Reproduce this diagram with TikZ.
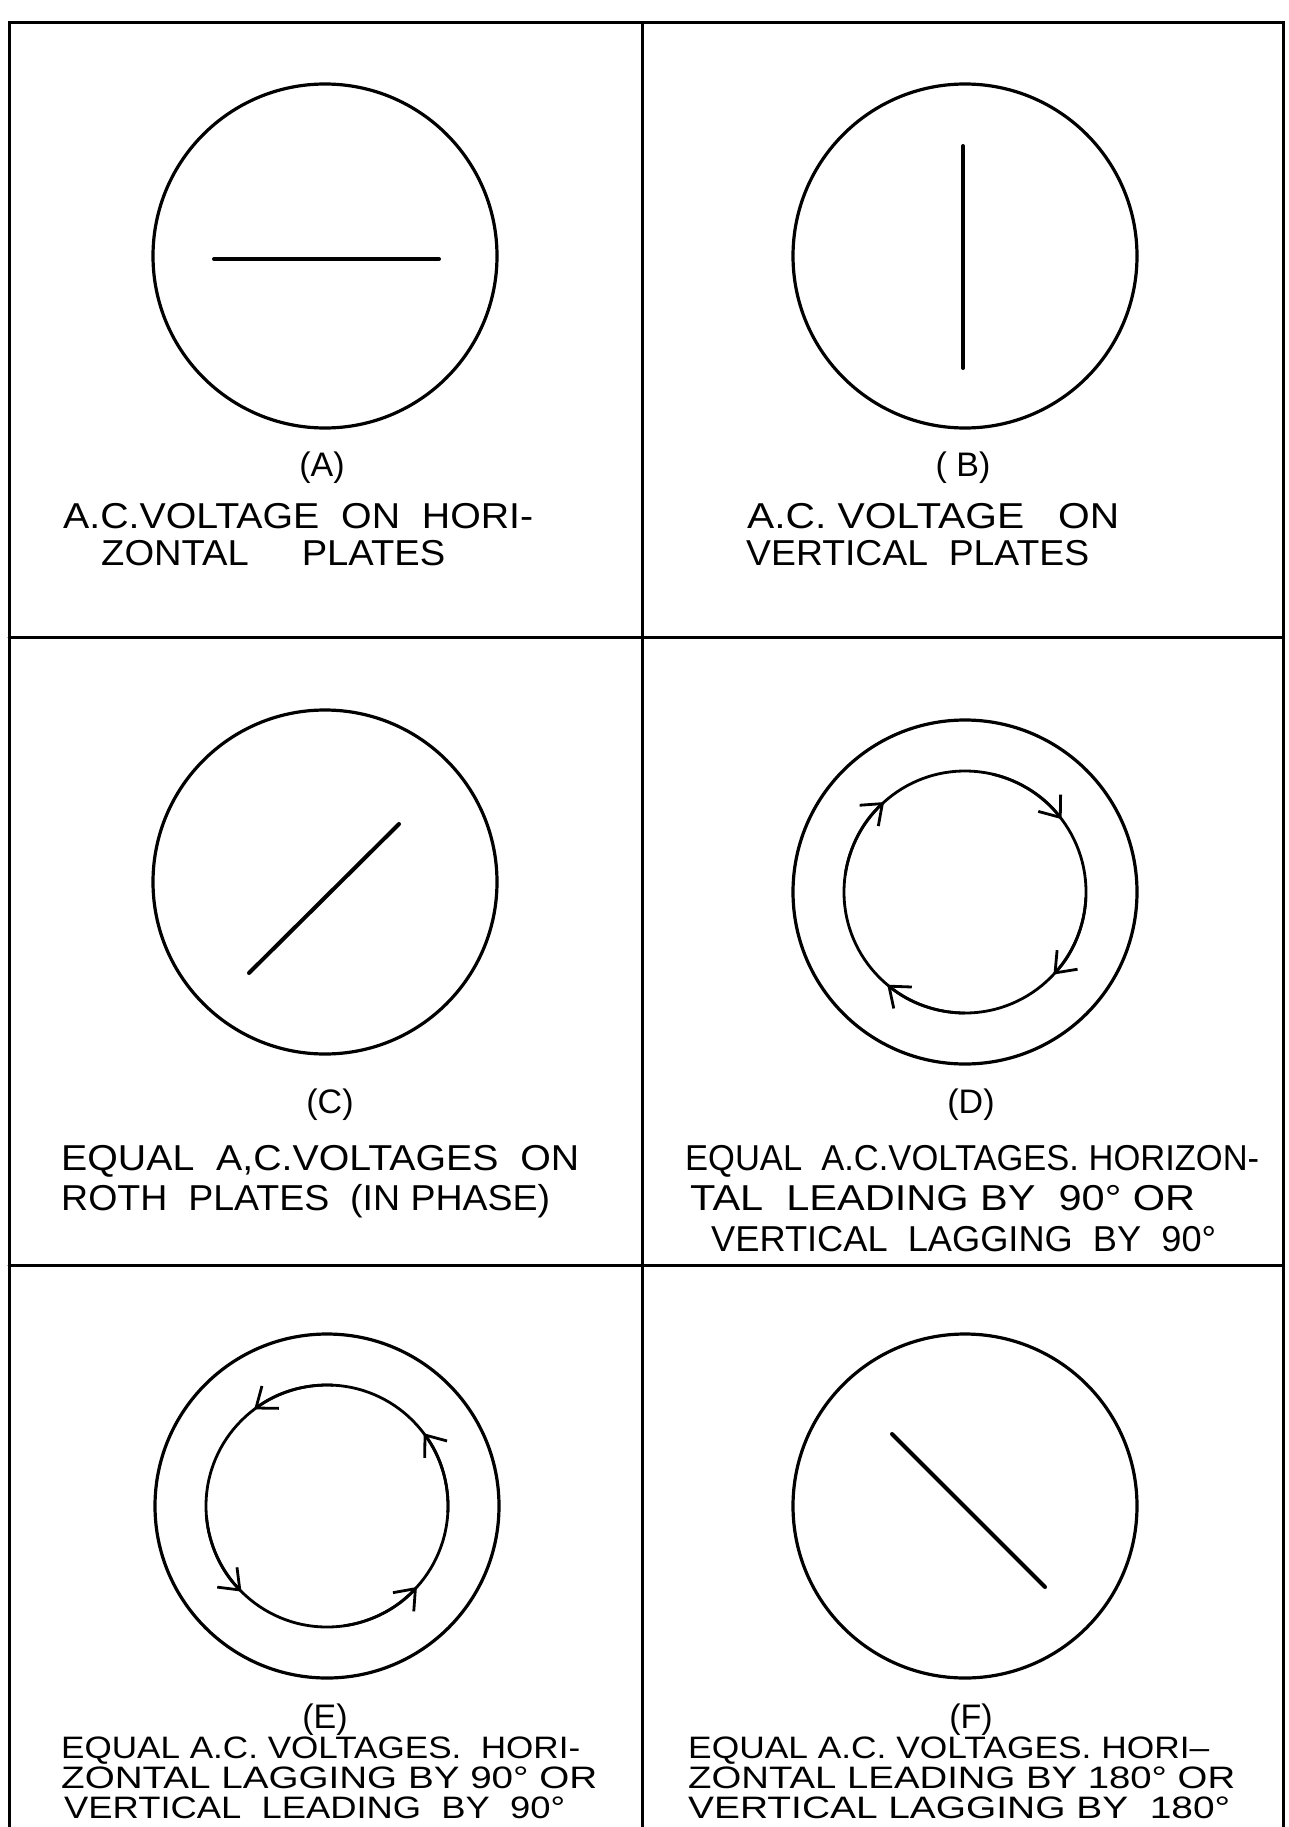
\documentclass[tikz,border=0pt]{standalone}
\usepackage{fontspec}
\setmainfont{Liberation Sans}
\usepackage{graphicx}
\usetikzlibrary{arrows.meta}
\newcommand\fitw[2]{\resizebox{#1pt}{\height}{#2}}
\begin{document}
\begin{tikzpicture}[x=1pt,y=-1pt,
  frame/.style={line width=3pt, line cap=round},
  scope/.style={line width=3.2pt},
  inner/.style={line width=2.8pt},
  plate/.style={line width=4pt, line cap=round},
  barb/.style={line width=2.8pt, -{Straight Barb[length=18pt,width=28pt,line width=2.8pt]}},
  big/.style={anchor=base west, inner sep=0pt, font=\fontsize{36}{40}\selectfont},
  small/.style={anchor=base west, inner sep=0pt, font=\fontsize{31}{34}\selectfont},
  lab/.style={anchor=base, inner sep=0pt, font=\fontsize{34}{38}\selectfont}]
\useasboundingbox[fill=white] (0,0) rectangle (1289,1827);
% frame
\draw[frame] (9,1827) -- (9,23) -- (1283,23) -- (1283,1827);
\draw[frame] (642,23) -- (642,1827);
\draw[frame] (9,637) -- (1283,637);
\draw[frame] (9,1265) -- (1283,1265);
% centres
\coordinate (A) at (325,256);
\coordinate (B) at (965,256);
\coordinate (C) at (325,882);
\coordinate (D) at (965,892);
\coordinate (E) at (327,1506);
\coordinate (F) at (965,1506);
% A
\draw[scope] (A) circle[radius=172];
\draw[plate] (214,259) -- (439,259);
% B
\draw[scope] (B) circle[radius=172];
\draw[plate] (963,146) -- (963,368);
% C
\draw[scope] (C) circle[radius=172];
\draw[plate] (249,973) -- (399,824);
% D (clockwise on the page)
\draw[scope] (D) circle[radius=172];
\draw[inner] (D) circle[radius=121];
\draw[barb] (D) ++(-172:121) arc[start angle=-172, end angle=-132, radius=121];
\draw[barb] (D) ++(-77:121) arc[start angle=-77, end angle=-37, radius=121];
\draw[barb] (D) ++(3:121) arc[start angle=3, end angle=43, radius=121];
\draw[barb] (D) ++(90:121) arc[start angle=90, end angle=130, radius=121];
% E (anticlockwise on the page)
\draw[scope] (E) circle[radius=172];
\draw[inner] (E) circle[radius=121];
\draw[barb] (E) ++(-87:121) arc[start angle=-87, end angle=-127, radius=121];
\draw[barb] (E) ++(3:121) arc[start angle=3, end angle=-37, radius=121];
\draw[barb] (E) ++(175:121) arc[start angle=175, end angle=135, radius=121];
\draw[barb] (E) ++(82:121) arc[start angle=82, end angle=42, radius=121];
% F
\draw[scope] (F) circle[radius=172];
\draw[plate] (892,1434) -- (1045,1587);
% texts A
\node[lab] (tA) at (322,476) {(A)};
\node[big] (a1) at (63,528) {\fitw{470}{A.C.VOLTAGE\ \ ON\ \ HORI-}};
\node[big] (a2) at (101,565) {\fitw{344}{ZONTAL\ \ \ \ \ PLATES}};
% B
\node[lab] (tB) at (963,476) {( B)};
\node[big] (b1) at (747,528) {\fitw{372}{A.C. VOLTAGE\ \ \ ON}};
\node[big] (b2) at (746,565) {\fitw{343}{VERTICAL\ \ PLATES}};
% C
\node[lab] (tC) at (330,1113) {(C)};
\node[big] (c1) at (61,1170) {\fitw{518}{EQUAL\ \ A,C.VOLTAGES\ \ ON}};
\node[big] (c2) at (61,1210) {\fitw{489}{ROTH\ \ PLATES\ \ (IN PHASE)}};
% D
\node[lab] (tD) at (971,1113) {(D)};
\node[big] (d1) at (685,1170) {\fitw{574}{EQUAL\ \ A.C.VOLTAGES. HORIZON-}};
\node[big] (d2) at (690,1210) {\fitw{505}{TAL\ \ LEADING BY\ \ 90° OR}};
\node[big] (d3) at (711,1251) {\fitw{505}{VERTICAL\ \ LAGGING\ \ BY\ \ 90°}};
% E
\node[lab] (tE) at (325,1728) {(E)};
\node[small] (e1) at (61,1758) {\fitw{519}{EQUAL A.C. VOLTAGES.\ \ HORI-}};
\node[small] (e2) at (61,1788) {\fitw{536}{ZONTAL LAGGING BY 90° OR}};
\node[small] (e3) at (64,1818) {\fitw{501}{VERTICAL\ \ LEADING\ \ BY\ \ 90°}};
% F
\node[lab] (tF) at (971,1728) {(F)};
\node[small] (f1) at (688,1758) {\fitw{521}{EQUAL A.C. VOLTAGES. HORI–}};
\node[small] (f2) at (688,1788) {\fitw{547}{ZONTAL LEADING BY 180° OR}};
\node[small] (f3) at (688,1818) {\fitw{542}{VERTICAL LAGGING BY\ \ 180°}};
\end{tikzpicture}
\end{document}
